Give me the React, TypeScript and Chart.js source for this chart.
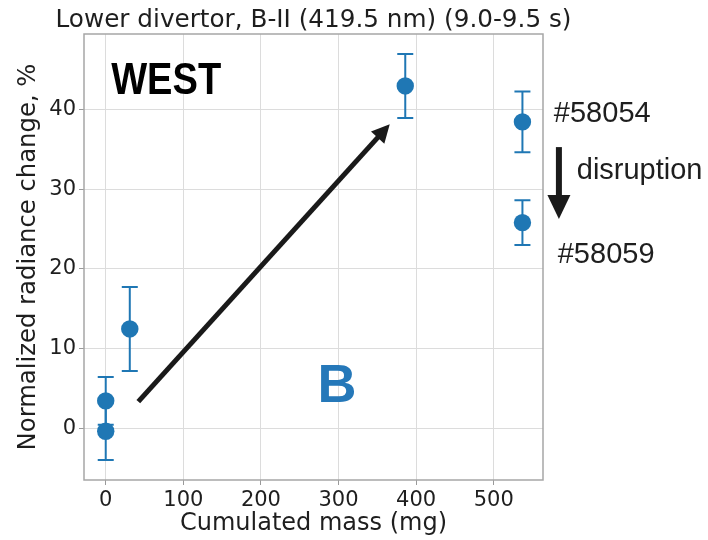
import React, { useEffect, useRef } from "react";
import { Chart, registerables } from "chart.js";

Chart.register(...registerables);

// ---- data ----
const massMg = [0, 0, 31, 386, 537, 537];
const radiancePct = [3.5, -0.3, 12.5, 42.9, 38.4, 25.8];
const radianceErr = [3.0, 3.6, 5.25, 4.0, 3.8, 2.8];

const xTickValues = [0, 100, 200, 300, 400, 500];
const yTickValues = [0, 10, 20, 30, 40];
const xRange = [-28, 563.5];
const yRange = [-6.4, 49.4];

const titleText = "Lower divertor, B-II (419.5 nm) (9.0-9.5 s)";
const xLabel = "Cumulated mass (mg)";
const yLabel = "Normalized radiance change, %";

// annotation anchors in data units
const trendArrowFrom = [42, 3.4];
const trendArrowTo = [366, 38.1];
const disruptionArrowFrom = [584, 35.25];
const disruptionArrowTo = [584, 26.25];

const annotationTexts = [
  { text: "WEST", x: 7, y: 41.85, kind: "west" },
  { text: "B", x: 298, y: 3.4, kind: "b" },
  { text: "#58054", x: 577.5, y: 38.4, kind: "note" },
  { text: "disruption", x: 607, y: 31.25, kind: "note" },
  { text: "#58059", x: 582.5, y: 20.75, kind: "note" },
];

const BLUE = "#1f77b4";
const AXIS_FONT = "DejaVu Sans";
const TEXT_COLOR = "#1e1e1e";

function drawArrow(
  ctx: CanvasRenderingContext2D,
  x0: number,
  y0: number,
  x1: number,
  y1: number,
  shaft: number,
  headLen: number,
  headHalf: number,
  color: string
) {
  const dx = x1 - x0;
  const dy = y1 - y0;
  const len = Math.hypot(dx, dy);
  const ux = dx / len;
  const uy = dy / len;
  const bx = x1 - ux * headLen;
  const by = y1 - uy * headLen;
  ctx.save();
  ctx.strokeStyle = color;
  ctx.fillStyle = color;
  ctx.lineWidth = shaft;
  ctx.lineCap = "butt";
  ctx.beginPath();
  ctx.moveTo(x0, y0);
  ctx.lineTo(bx + ux * 1, by + uy * 1);
  ctx.stroke();
  ctx.beginPath();
  ctx.moveTo(x1, y1);
  ctx.lineTo(bx - uy * headHalf, by + ux * headHalf);
  ctx.lineTo(bx + uy * headHalf, by - ux * headHalf);
  ctx.closePath();
  ctx.fill();
  ctx.restore();
}

const overlayPlugin = {
  id: "overlay",
  beforeDatasetsDraw(chart: any) {
    const { ctx, scales } = chart;
    const xs = scales.x;
    const ys = scales.y;
    ctx.save();
    ctx.strokeStyle = BLUE;
    ctx.lineWidth = 2;
    massMg.forEach((m, i) => {
      const px = xs.getPixelForValue(m);
      const top = ys.getPixelForValue(radiancePct[i] + radianceErr[i]);
      const bot = ys.getPixelForValue(radiancePct[i] - radianceErr[i]);
      ctx.beginPath();
      ctx.moveTo(px, top);
      ctx.lineTo(px, bot);
      ctx.moveTo(px - 8, top);
      ctx.lineTo(px + 8, top);
      ctx.moveTo(px - 8, bot);
      ctx.lineTo(px + 8, bot);
      ctx.stroke();
    });
    ctx.restore();
  },
  afterDraw(chart: any) {
    const { ctx, chartArea, scales } = chart;
    const xs = scales.x;
    const ys = scales.y;
    ctx.save();
    // frame
    ctx.strokeStyle = "#a6a6a6";
    ctx.lineWidth = 1.5;
    ctx.strokeRect(
      chartArea.left,
      chartArea.top,
      chartArea.right - chartArea.left,
      chartArea.bottom - chartArea.top
    );
    // title
    ctx.fillStyle = TEXT_COLOR;
    ctx.font = `24.7px "${AXIS_FONT}"`;
    ctx.textAlign = "center";
    ctx.textBaseline = "alphabetic";
    ctx.fillText(titleText, (chartArea.left + chartArea.right) / 2, 27);

    // arrows
    drawArrow(
      ctx,
      xs.getPixelForValue(trendArrowFrom[0]),
      ys.getPixelForValue(trendArrowFrom[1]),
      xs.getPixelForValue(trendArrowTo[0]),
      ys.getPixelForValue(trendArrowTo[1]),
      5,
      18,
      9,
      "#1a1a1a"
    );
    drawArrow(
      ctx,
      xs.getPixelForValue(disruptionArrowFrom[0]),
      ys.getPixelForValue(disruptionArrowFrom[1]),
      xs.getPixelForValue(disruptionArrowTo[0]),
      ys.getPixelForValue(disruptionArrowTo[1]),
      6,
      24,
      11.5,
      "#1a1a1a"
    );

    // texts
    annotationTexts.forEach((a) => {
      const px = xs.getPixelForValue(a.x);
      const py = ys.getPixelForValue(a.y);
      ctx.save();
      ctx.textBaseline = "alphabetic";
      if (a.kind === "west") {
        ctx.font = `bold 44px "Liberation Sans"`;
        ctx.fillStyle = "#000000";
        ctx.textAlign = "left";
        const w = ctx.measureText(a.text).width;
        const sx = 110 / w;
        ctx.translate(px, py);
        ctx.scale(sx, 1);
        ctx.fillText(a.text, 0, 0);
      } else if (a.kind === "b") {
        ctx.font = `bold 54px "Liberation Sans"`;
        ctx.fillStyle = "#2578b9";
        ctx.textAlign = "center";
        ctx.fillText(a.text, px, py);
      } else {
        ctx.font = `29px "Liberation Sans"`;
        ctx.fillStyle = TEXT_COLOR;
        ctx.textAlign = "left";
        ctx.fillText(a.text, px, py);
      }
      ctx.restore();
    });
    ctx.restore();
  },
};

export default function App() {
  const canvasRef = useRef<HTMLCanvasElement | null>(null);

  useEffect(() => {
    if (!canvasRef.current) return;
    const points = massMg.map((m, i) => ({ x: m, y: radiancePct[i] }));
    const chart = new Chart(canvasRef.current, {
      type: "scatter",
      data: {
        datasets: [
          {
            data: points,
            backgroundColor: BLUE,
            borderColor: BLUE,
            pointRadius: 8.7,
            pointHoverRadius: 8.7,
            borderWidth: 0,
          },
        ],
      },
      plugins: [overlayPlugin],
      options: {
        animation: false,
        responsive: false,
        devicePixelRatio: 1,
        layout: { padding: { top: 34, right: 165, left: 0, bottom: 0 } },
        plugins: {
          legend: { display: false },
          tooltip: { enabled: false },
          title: { display: false },
        },
        scales: {
          x: {
            type: "linear",
            min: xRange[0],
            max: xRange[1],
            afterBuildTicks: (s: any) => {
              s.ticks = xTickValues.map((v) => ({ value: v }));
            },
            afterFit: (s: any) => {
              s.height = 60;
            },
            grid: {
              color: "#dcdcdc",
              lineWidth: 1,
              tickLength: 5,
              tickColor: "#9a9a9a",
            },
            border: { display: false },
            ticks: {
              font: { family: AXIS_FONT, size: 21 },
              color: TEXT_COLOR,
              padding: 3,
              maxRotation: 0,
              autoSkip: false,
            },
            title: {
              display: true,
              text: xLabel,
              font: { family: AXIS_FONT, size: 24 },
              color: TEXT_COLOR,
              padding: { top: 0, bottom: 1.5 },
            },
          },
          y: {
            type: "linear",
            min: yRange[0],
            max: yRange[1],
            afterBuildTicks: (s: any) => {
              s.ticks = yTickValues.map((v) => ({ value: v }));
            },
            afterFit: (s: any) => {
              s.width = 84;
            },
            grid: {
              color: "#dcdcdc",
              lineWidth: 1,
              tickLength: 5,
              tickColor: "#9a9a9a",
            },
            border: { display: false },
            ticks: {
              font: { family: AXIS_FONT, size: 21 },
              color: TEXT_COLOR,
              padding: 3,
              autoSkip: false,
            },
            title: {
              display: true,
              text: yLabel,
              font: { family: AXIS_FONT, size: 24.3 },
              color: TEXT_COLOR,
              padding: { top: 14, bottom: 0 },
            },
          },
        },
      },
    });
    return () => chart.destroy();
  }, []);

  return (
    <div style={{ position: "absolute", left: 0, top: 0, width: 708, height: 540, background: "#ffffff" }}>
      <canvas ref={canvasRef} width={708} height={540} style={{ display: "block" }} />
    </div>
  );
}
